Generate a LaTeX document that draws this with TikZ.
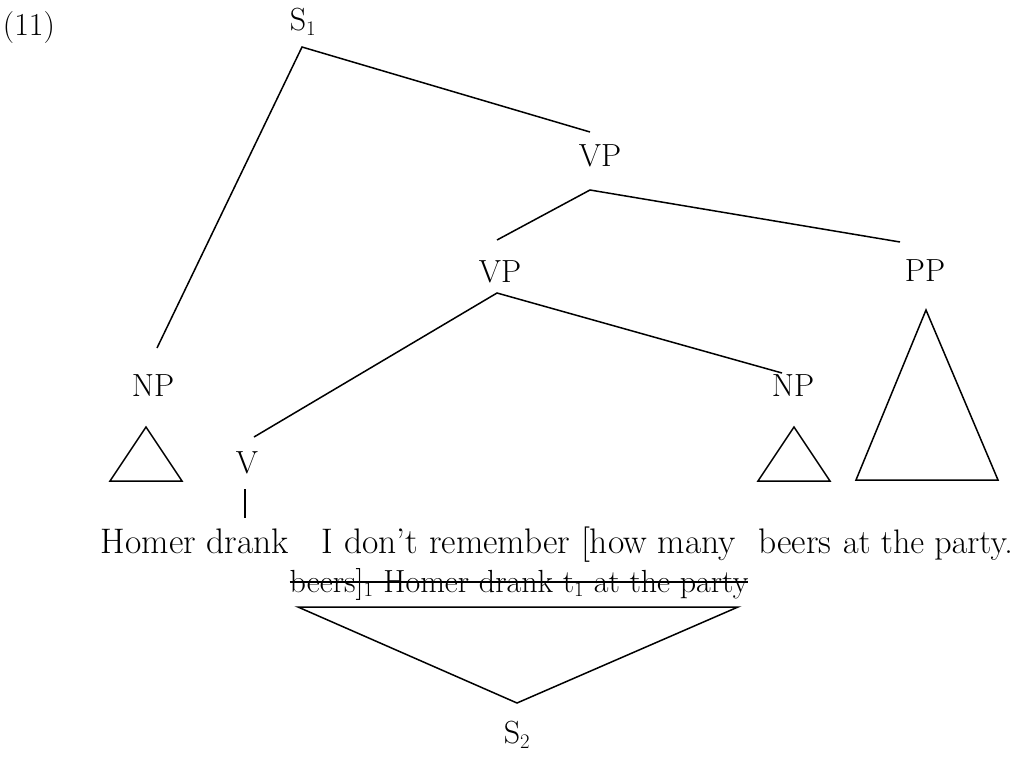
\documentclass[tikz,border=0pt]{standalone}
\usetikzlibrary{calc}
\begin{document}
\begin{tikzpicture}[x=1pt,y=-1pt,
  lbl/.style={inner sep=0pt,font=\fontsize{32}{38}\selectfont},
  wrd/.style={inner sep=0pt,anchor=base,font=\fontsize{35.5}{42}\selectfont},
  strk/.style={inner sep=0pt,anchor=base,font=\fontsize{32}{38}\selectfont},
  edge/.style={line width=1.5pt,line join=miter}]
\useasboundingbox (0,0) rectangle (1021,761);
% labels
\node[lbl] (ex) at (29,28) {(11)};
\node[lbl] (s1) at (303,22) {S$_1$};
\node[lbl] (vp1) at (600,156) {VP};
\node[lbl] (vp2) at (500,272) {VP};
\node[lbl] (pp) at (925,271) {PP};
\node[lbl] (np1) at (153,386) {NP};
\node[lbl] (np2) at (793,386) {NP};
\node[lbl] (v) at (247,463) {V};
\node[lbl] (s2) at (517,735) {S$_2$};
% words
\node[wrd] (w1) at (195,553) {Homer drank};
\node[wrd] (w2) at (529,553) {I don’t remember [how many};
\node[wrd] (w3) at (795,553) {beers};
\node[wrd,font=\fontsize{34}{40}\selectfont] (w4) at (928,553) {at the party.};
\node[strk] (w5) at (519,592) {beers]$_1$ Homer drank t$_1$ at the party};
% coordinates
\coordinate (a1) at (302,47);
\coordinate (a1l) at (157,348);
\coordinate (a1r) at (590,132);
\coordinate (a2) at (590,190);
\coordinate (a2l) at (497,240);
\coordinate (a2r) at (900,242);
\coordinate (a3) at (497,293);
\coordinate (a3l) at (254,437);
\coordinate (a3r) at (782,373);
\coordinate (vt) at (245,489);
\coordinate (vb) at (245,518);
% edges
\draw[edge] (a1l) -- (a1) -- (a1r);
\draw[edge] (a2l) -- (a2) -- (a2r);
\draw[edge] (a3l) -- (a3) -- (a3r);
\draw[edge] (vt) -- (vb);
% triangles
\draw[edge] (146,427) -- (182,481) -- (110,481) -- cycle;
\draw[edge] (794,427) -- (830,481) -- (758,481) -- cycle;
\draw[edge] (926,310) -- (998,480) -- (856,480) -- cycle;
\draw[edge] (517,703) -- (738,607) -- (298,607) -- cycle;
% strike-through
\draw[line width=1.4pt] ($(w5.base west)+(0,-10)$) -- ($(w5.base east)+(0,-10)$);
\end{tikzpicture}
\end{document}
